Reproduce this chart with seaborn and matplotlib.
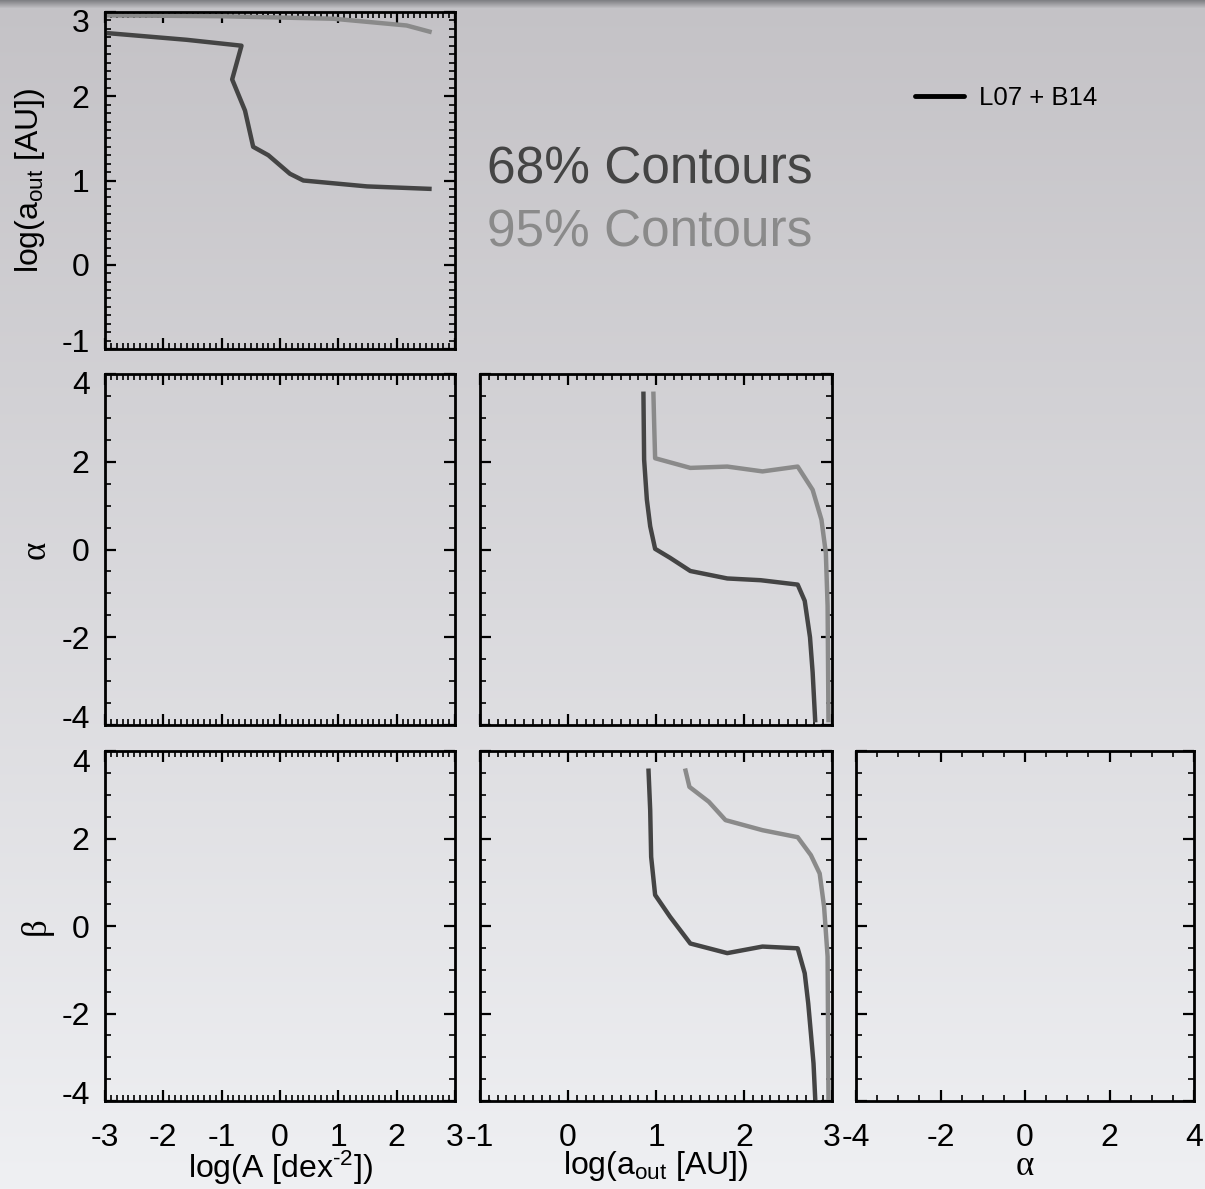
import numpy as np
import pandas as pd
import matplotlib
matplotlib.use("Agg")
import matplotlib.pyplot as plt
from matplotlib.lines import Line2D
from matplotlib.ticker import MultipleLocator
from matplotlib.transforms import ScaledTranslation
import seaborn as sns

# ---------------- data ----------------
# panel: log(a_out) vs log(A)
logA_68 = [-2.97, -1.60, -0.66, -0.82, -0.60, -0.46, -0.20, 0.17, 0.40, 1.49, 2.60]
laout_68_vsA = [2.75, 2.67, 2.60, 2.20, 1.83, 1.40, 1.30, 1.08, 1.00, 0.93, 0.90]
logA_95 = [-2.97, -1.0, 0.92, 2.17, 2.60]
laout_95_vsA = [2.96, 2.95, 2.92, 2.84, 2.76]

# panel: alpha vs log(a_out)
laout_68_alpha = [0.857, 0.865, 0.896, 0.934, 0.99, 1.16, 1.39, 1.81, 2.19, 2.61, 2.69, 2.75, 2.78, 2.81]
alpha_68 = [3.60, 2.05, 1.14, 0.53, 0.015, -0.19, -0.49, -0.66, -0.70, -0.80, -1.17, -2.00, -2.80, -3.94]
laout_95_alpha = [0.97, 0.98, 0.99, 1.39, 1.81, 2.21, 2.61, 2.78, 2.88, 2.93, 2.95, 2.96]
alpha_95 = [3.60, 2.80, 2.08, 1.86, 1.89, 1.78, 1.89, 1.36, 0.68, -0.08, -1.29, -3.94]

# panel: beta vs log(a_out)
laout_68_beta = [0.914, 0.934, 0.945, 0.99, 1.16, 1.39, 1.81, 2.21, 2.61, 2.69, 2.73, 2.76, 2.79, 2.81]
beta_68 = [3.60, 2.65, 1.58, 0.71, 0.21, -0.40, -0.62, -0.47, -0.51, -1.08, -1.77, -2.45, -3.14, -3.98]
laout_95_beta = [1.33, 1.38, 1.60, 1.79, 2.21, 2.61, 2.76, 2.86, 2.91, 2.95, 2.96]
beta_95 = [3.60, 3.18, 2.84, 2.42, 2.19, 2.03, 1.62, 1.20, 0.44, -0.70, -3.98]

legend_label = "L07 + B14"
contour_labels = ["68% Contours", "95% Contours"]

# ---------------- style ----------------
sns.set_style("ticks")
plt.rcParams["font.family"] = ["Liberation Sans", "DejaVu Sans"]
plt.rcParams["axes.unicode_minus"] = False
plt.rcParams["mathtext.fontset"] = "custom"
plt.rcParams["mathtext.rm"] = "Liberation Sans"
plt.rcParams["mathtext.it"] = "Liberation Sans:italic"
plt.rcParams["mathtext.default"] = "regular"
for k in ["text.color", "axes.labelcolor", "xtick.color", "ytick.color",
          "xtick.labelcolor", "ytick.labelcolor"]:
    plt.rcParams[k] = "black"

DARK = "#444444"
LIGHT = "#8a8a8a"
LW = 3.2
TICK_FS = 23
LABEL_FS = 23
SERIF = ["Liberation Serif", "DejaVu Serif"]

W, H = 1205, 1189
fig = plt.figure(figsize=(W / 100, H / 100), dpi=100)

# background gradient
bg = fig.add_axes([0, 0, 1, 1], zorder=-10)
yy = np.linspace(0, 1, H)
top = np.array([0xc4, 0xc2, 0xc6]) / 255.0
bot = np.array([0xef, 0xf0, 0xf3]) / 255.0
cols = top[None, :] * (1 - yy[:, None]) + bot[None, :] * yy[:, None]
shade = np.clip(yy * H / 8.0, 0, 1)
dark_top = np.array([0x80, 0x80, 0x84]) / 255.0
cols = dark_top[None, :] * (1 - shade[:, None]) + cols * shade[:, None]
img = np.repeat(cols[:, None, :], 4, axis=1)
bg.imshow(img, aspect="auto", extent=[0, 1, 0, 1], origin="upper")
bg.set_axis_off()

def px_axes(x0, y0, x1, y1):
    return fig.add_axes([x0 / W, 1 - y1 / H, (x1 - x0) / W, (y1 - y0) / H])

cols_px = [(105, 455), (480, 832), (856, 1194)]
rows_px = [(12, 349), (374, 725), (751, 1101)]

xlims = [(-3, 3), (-1, 3), (-4, 4)]
xmaj = [1, 1, 2]
xmin = [0.1, 0.1, 0.5]
ylims = [(-1, 3), (-4, 4), (-4, 4)]
ymaj = [1, 2, 2]
ymin = [0.1, 0.5, 0.5]

xlabels = ["log(A [dex$^{\\mathrm{\u20102}}$])", r"log(a$_{\mathrm{out}}$ [AU])", "α"]
ylabels = [r"log(a$_{\mathrm{out}}$ [AU])", "α", "β"]

axes = {}
for r in range(3):
    for c in range(r + 1):
        x0, x1 = cols_px[c]
        y0, y1 = rows_px[r]
        ax = px_axes(x0, y0, x1, y1)
        ax.set_facecolor("none")
        ax.set_xlim(*xlims[c])
        ax.set_ylim(*ylims[r])
        ax.xaxis.set_major_locator(MultipleLocator(xmaj[c]))
        ax.xaxis.set_minor_locator(MultipleLocator(xmin[c]))
        ax.yaxis.set_major_locator(MultipleLocator(ymaj[r]))
        ax.yaxis.set_minor_locator(MultipleLocator(ymin[r]))
        ax.tick_params(which="both", direction="in", top=True, right=True,
                       color="black", labelsize=TICK_FS, labelcolor="black")
        ax.tick_params(which="major", length=8, width=1.6)
        ax.tick_params(which="minor", length=4, width=1.2)
        ax.tick_params(axis="x", pad=16)
        ax.tick_params(axis="y", pad=11)
        for s in ax.spines.values():
            s.set_linewidth(2.0)
            s.set_color("black")
        if r != 2:
            ax.tick_params(labelbottom=False)
        if c != 0:
            ax.tick_params(labelleft=False)
        axes[(r, c)] = ax

def draw(ax, x, y, color):
    df = pd.DataFrame({"x": x, "y": y})
    sns.lineplot(data=df, x="x", y="y", sort=False, estimator=None,
                 color=color, lw=LW, ax=ax, solid_capstyle="butt")

draw(axes[(0, 0)], logA_95, laout_95_vsA, LIGHT)
draw(axes[(0, 0)], logA_68, laout_68_vsA, DARK)
draw(axes[(1, 1)], laout_95_alpha, alpha_95, LIGHT)
draw(axes[(1, 1)], laout_68_alpha, alpha_68, DARK)
draw(axes[(2, 1)], laout_95_beta, beta_95, LIGHT)
draw(axes[(2, 1)], laout_68_beta, beta_68, DARK)

# axis labels
for (r, c), ax in axes.items():
    ax.set_xlabel("")
    ax.set_ylabel("")
    if r == 2:
        if c == 2:
            ax.set_xlabel(xlabels[c], fontsize=LABEL_FS + 2, family=SERIF, labelpad=-2)
        else:
            ax.set_xlabel(xlabels[c], fontsize=LABEL_FS, labelpad=-3)
    if c == 0:
        if r == 0:
            ax.set_ylabel(ylabels[r], fontsize=LABEL_FS, labelpad=10)
        else:
            ax.set_ylabel(ylabels[r], fontsize=LABEL_FS + 2, family=SERIF, labelpad=6)

# contour labels
fig.text(487 / W, 1 - 170 / H, contour_labels[0], fontsize=37, color=DARK,
         ha="left", va="center")
fig.text(487 / W, 1 - 233 / H, contour_labels[1], fontsize=37, color=LIGHT,
         ha="left", va="center")

# legend
fig.legend(handles=[Line2D([], [], color="black", lw=3.5)], labels=[legend_label],
           loc="center left", bbox_to_anchor=(915 / W, 1 - 98 / H),
           frameon=False, fontsize=18.5, handlelength=1.9, handletextpad=0.6,
           borderpad=0, borderaxespad=0)

# nudge extreme y tick labels inwards (as in the reference)
fig.canvas.draw()
for (r, c), ax in axes.items():
    if c != 0:
        continue
    lo, hi = ax.get_ylim()
    for tick in ax.yaxis.get_major_ticks():
        loc = tick.get_loc()
        lab = tick.label1
        if abs(loc - hi) < 1e-6:
            lab.set_transform(lab.get_transform() + ScaledTranslation(0, -9 / 100, fig.dpi_scale_trans))
        elif abs(loc - lo) < 1e-6:
            lab.set_transform(lab.get_transform() + ScaledTranslation(0, 9 / 100, fig.dpi_scale_trans))

fig.savefig("out.png", dpi=100)
